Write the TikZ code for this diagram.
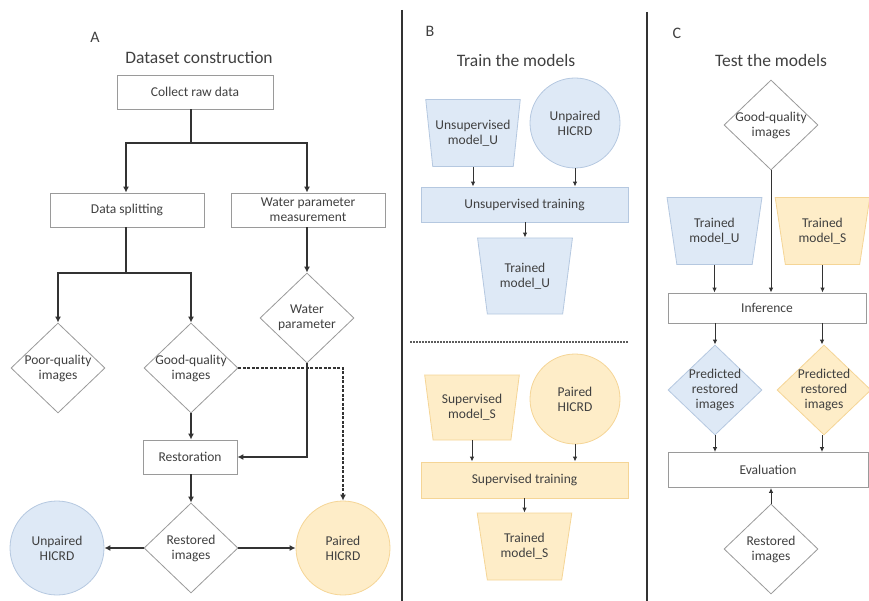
\documentclass[tikz,border=0pt]{standalone}
\usepackage{fontspec}
\setmainfont{Carlito}
\usetikzlibrary{shapes.geometric,arrows.meta}
\definecolor{txtgray}{HTML}{404040}
\definecolor{linegray}{HTML}{333333}
\definecolor{edgegray}{HTML}{9A9A9A}
\definecolor{bluefill}{HTML}{DEE9F6}
\definecolor{blueedge}{HTML}{B5C8E0}
\definecolor{orangefill}{HTML}{FEEDC8}
\definecolor{orangeedge}{HTML}{F5D596}
\tikzset{
    every node/.style={text=txtgray, font=\fontsize{13.5}{15}\selectfont},
    procbox/.style={draw=edgegray, line width=0.8pt, fill=white, minimum height=34, align=center, inner sep=2pt},
    decision/.style={diamond, draw=edgegray, line width=0.8pt, fill=white, minimum width=94, minimum height=90, inner sep=-12pt, align=center},
    dataset/.style={circle, draw=edgegray, line width=0.8pt, minimum size=92, inner sep=0pt, align=center},
    model/.style={trapezium, trapezium left angle=104, trapezium right angle=104, trapezium stretches=true, draw=edgegray, line width=0.8pt, minimum width=95, minimum height=67, inner sep=0pt, align=center},
    bigarr/.style={line width=1.8pt, draw=linegray, -{Latex[length=6pt,width=6pt]}},
    thinarr/.style={line width=1pt, draw=linegray, -{Latex[length=5pt,width=4.5pt]}},
    paneltitle/.style={font=\fontsize{17.5}{20}\selectfont},
    panelletter/.style={font=\fontsize{16}{18}\selectfont}
}
\begin{document}
\begin{tikzpicture}[x=1pt,y=-1pt]
    \useasboundingbox (0,0) rectangle (869,601);
    % panel separators
    \draw[line width=2.8pt, draw=linegray] (402,10) -- (402,601);
    \draw[line width=2.8pt, draw=linegray] (647,12) -- (647,601);
    \draw[line width=1.5pt, draw=linegray!80, dash pattern=on 2pt off 1pt] (410,342) -- (628,342);

    % A: dataset construction
    \node[panelletter] (letA) at (95,37) {A};
    \node[paneltitle] (titleA) at (199,58) {Dataset construction};
    \node[procbox, minimum width=156] (collect) at (195,92) {Collect raw data};
    \node[procbox, minimum width=154] (split) at (127,210) {Data splitting};
    \node[procbox, minimum width=154, inner sep=0pt] (wpm) at (308,210) {Water parameter\\measurement};
    \node[decision] (wpar) at (307,318) {Water\\parameter};
    \node[decision] (poor) at (58,368) {Poor-quality\\images};
    \node[decision] (good) at (191,368) {Good-quality\\images};
    \node[procbox, minimum width=94] (restore) at (190,457) {Restoration};
    \node[decision] (restored) at (191,548) {Restored\\images};
    \node[dataset, fill=bluefill, draw=blueedge, minimum size=94] (unpaired) at (57,548) {Unpaired\\HICRD};
    \node[dataset, fill=orangefill, draw=orangeedge, minimum size=94] (paired) at (343,548) {Paired\\HICRD};
    \coordinate (forkraw) at (191,143);
    \coordinate (forksplit) at (126,273);
    \draw[line width=1.8pt, draw=linegray] (collect.south -| forkraw) -- (forkraw);
    \draw[bigarr] (forkraw) -| (split.north -| 126,0);
    \draw[bigarr] (forkraw) -| (wpm.north -| 307,0);
    \draw[line width=1.8pt, draw=linegray] (split.south -| forksplit) -- (forksplit);
    \draw[bigarr] (forksplit) -| (poor.north);
    \draw[bigarr] (forksplit) -| (good.north);
    \draw[bigarr] (wpm.south -| wpar.north) -- (wpar.north);
    \draw[bigarr] (good.south) -- (restore.north -| good.south);
    \draw[bigarr] (wpar.south) |- (restore.east);
    \draw[bigarr, dash pattern=on 3pt off 1.5pt] (good.east) -| (paired.north);
    \draw[bigarr] (restore.south -| restored.north) -- (restored.north);
    \draw[bigarr] (restored.west) -- (unpaired.east);
    \draw[bigarr] (restored.east) -- (paired.west);

    % B: train the models
    \node[panelletter] (letB) at (430,31) {B};
    \node[paneltitle] (titleB) at (516,60) {Train the models};
    \node[model, fill=bluefill, draw=blueedge] (umodel) at (473,133) {Unsupervised\\model\_U};
    \node[dataset, fill=bluefill, draw=blueedge, minimum size=90] (udata) at (575,123) {Unpaired\\HICRD};
    \node[procbox, fill=bluefill, draw=blueedge, minimum width=207, minimum height=35] (utrain) at (524.5,204.5) {Unsupervised training};
    \node[model, fill=bluefill, draw=blueedge, minimum height=76] (utrained) at (525,276) {Trained\\model\_U};
    \draw[thinarr] (umodel.south) -- (umodel.south |- utrain.north);
    \draw[thinarr] (udata.south) -- (udata.south |- utrain.north);
    \draw[thinarr] (utrain.south -| utrained.north) -- (utrained.north);

    \node[model, fill=orangefill, draw=orangeedge, minimum height=65] (smodel) at (472,407.5) {Supervised\\model\_S};
    \node[dataset, fill=orangefill, draw=orangeedge, minimum size=90] (sdata) at (575,399) {Paired\\HICRD};
    \node[procbox, fill=orangefill, draw=orangeedge, minimum width=207, minimum height=36] (strain) at (524.5,480) {Supervised training};
    \node[model, fill=orangefill, draw=orangeedge] (strained) at (524.5,546.5) {Trained\\model\_S};
    \draw[thinarr] (smodel.south) -- (smodel.south |- strain.north);
    \draw[thinarr] (sdata.south) -- (sdata.south |- strain.north);
    \draw[thinarr] (strain.south -| strained.north) -- (strained.north);

    % C: test the models
    \node[panelletter] (letC) at (677,33) {C};
    \node[paneltitle] (titleC) at (771,60) {Test the models};
    \node[decision] (cgood) at (771,125) {Good-quality\\images};
    \node[model, fill=bluefill, draw=blueedge] (cumodel) at (714.5,231) {Trained\\model\_U};
    \node[model, fill=orangefill, draw=orangeedge] (csmodel) at (822.5,231) {Trained\\model\_S};
    \node[procbox, minimum width=198, minimum height=30] (infer) at (767,308) {Inference};
    \node[decision, fill=bluefill, draw=blueedge] (upred) at (715,390) {Predicted\\restored\\images};
    \node[decision, fill=orangefill, draw=orangeedge] (spred) at (824,390) {Predicted\\restored\\images};
    \node[procbox, minimum width=200, minimum height=35] (evalbox) at (768,470) {Evaluation};
    \node[decision] (crestored) at (771,549) {Restored\\images};
    \draw[thinarr] (cgood.south) -- (cgood.south |- infer.north);
    \draw[thinarr] (cumodel.south) -- (cumodel.south |- infer.north);
    \draw[thinarr] (csmodel.south) -- (csmodel.south |- infer.north);
    \draw[thinarr] (infer.south -| upred.north) -- (upred.north);
    \draw[thinarr] (infer.south -| 822,0) -- (spred.north -| 822,0);
    \draw[thinarr] (upred.south) -- (upred.south |- evalbox.north);
    \draw[thinarr] (spred.south -| 822,0) -- (evalbox.north -| 822,0);
    \draw[thinarr] (crestored.north) -- (crestored.north |- evalbox.south);
\end{tikzpicture}
\end{document}
